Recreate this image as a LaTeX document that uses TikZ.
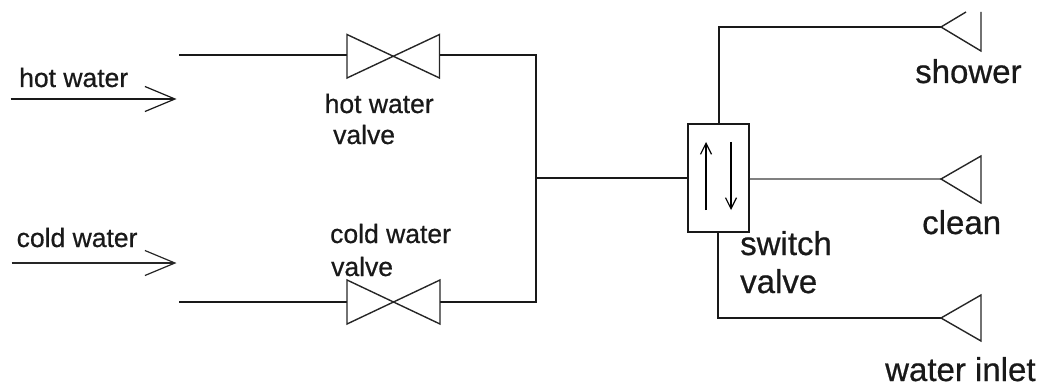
\documentclass[tikz,border=0pt]{standalone}
\usepackage{fontspec}
\setmainfont[AutoFakeBold=0.6]{Liberation Sans}
\usetikzlibrary{arrows.meta}
\tikzset{
    pipe/.style={line width=2pt, black!90},
    thinline/.style={line width=1.4pt, black!85},
    lab/.style={inner sep=0pt, anchor=base west, text=black!90, font=\bfseries\fontsize{26.5}{26.5}\selectfont},
    biglab/.style={inner sep=0pt, anchor=base west, text=black!90, font=\bfseries\fontsize{33}{33}\selectfont},
    inarrow/.style={-{Straight Barb[length=30pt,width=25pt,line width=1.2pt]}},
    smallarrow/.style={line width=1.7pt, -{Straight Barb[length=11pt,width=11pt,line width=1.2pt]}},
}
\begin{document}
\begin{tikzpicture}[x=1pt,y=-1pt]
\useasboundingbox (0,0) rectangle (1041,385);

\coordinate (hs) at (10.5,99);
\coordinate (he) at (176.5,99);
\coordinate (cs) at (11.5,263);
\coordinate (ce) at (176.5,263);

\coordinate (h1) at (179,55.5);
\coordinate (h2) at (347,55.5);
\coordinate (h3) at (439.5,55.5);
\coordinate (c1) at (179,302);
\coordinate (c2) at (347,302);
\coordinate (c3) at (440,302);
\coordinate (m1) at (536,55.5);
\coordinate (m2) at (536,302);
\coordinate (m3) at (536,178);

\node[draw, pipe, rectangle, inner sep=0pt, minimum width=61pt, minimum height=108pt] (sw) at (718,178) {};

\coordinate (t1) at (719,124);
\coordinate (t2) at (719,27);
\coordinate (sh) at (941,27);
\coordinate (cl) at (941,179);
\coordinate (b1) at (718,232);
\coordinate (b2) at (718,318);
\coordinate (wi) at (941,318);

\coordinate (u1) at (706,210);
\coordinate (u2) at (706,142);
\coordinate (d1) at (731,142);
\coordinate (d2) at (731,210);

% inlets
\draw[inarrow, line width=1.9pt, black!90] (hs)--(he);
\draw[inarrow, thinline] (cs)--(ce);

\node[lab] (hot) at (19,87) {hot water};
\node[lab] (cold) at (16.5,247) {cold water};

% pipes
\draw[pipe] (h1)--(h2);
\draw[pipe] (h3)--(m1)--(m2)--(c3);
\draw[pipe] (c1)--(c2);
\draw[pipe] (m3)--(sw.west |- m3);
\draw[pipe] (t1)--(t2)--(sh);
\draw[pipe] (b1)--(b2)--(wi);
\draw[line width=1.9pt, black!50] (sw.east |- cl)--(cl);

% valves
\draw[thinline] (347,34.5)--(439.5,78)--(439.5,34.5)--(347,78)--cycle;
\draw[thinline] (347,280)--(440,324)--(440,280)--(347,324)--cycle;

% outlets
\draw[thinline] (966,12)--(sh)--(981,51)--(981,12);
\draw[thinline] (cl)--(981,156)--(981,203)--cycle;
\draw[thinline] (wi)--(981,295)--(981,341)--cycle;

\draw[smallarrow] (u1)--(u2);
\draw[smallarrow] (d1)--(d2);

\node[lab] (hv1) at (324.5,113) {hot water};
\node[lab] (hv2) at (333,144) {valve};
\node[lab] (cv1) at (330,243) {cold water};
\node[lab] (cv2) at (331,276) {valve};

\node[biglab] (shower) at (915,83) {shower};
\node[biglab] (clean) at (922,234) {clean};
\node[biglab] (sv1) at (740,255) {switch};
\node[biglab] (sv2) at (740,293) {valve};
\node[biglab] (inlet) at (885,381) {water inlet};

\end{tikzpicture}
\end{document}
